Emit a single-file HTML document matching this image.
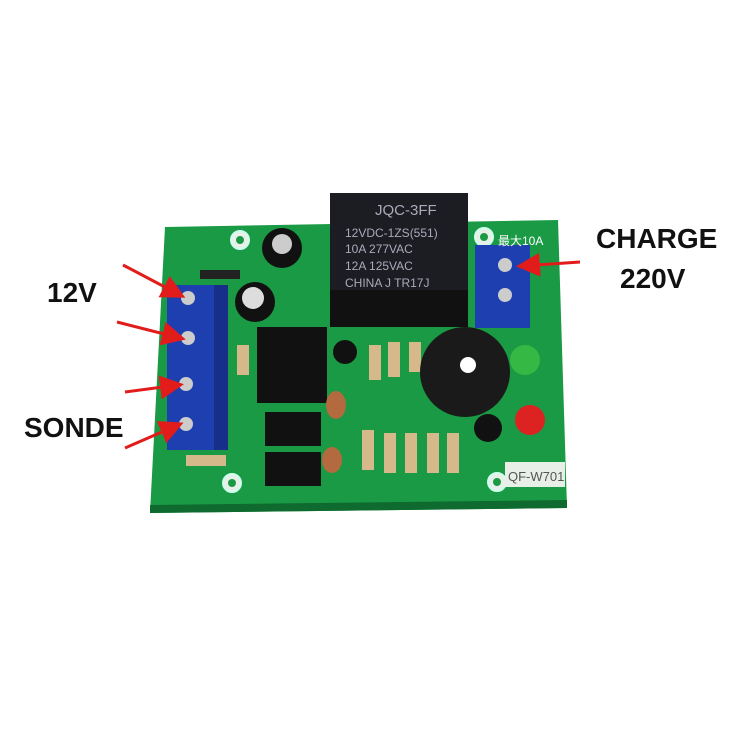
<!DOCTYPE html>
<html><head><meta charset="utf-8"><style>
html,body{margin:0;padding:0;background:#fff;width:750px;height:750px;overflow:hidden}
</style></head><body>
<svg width="750" height="750" viewBox="0 0 750 750" xmlns="http://www.w3.org/2000/svg" font-family="Liberation Sans, sans-serif">
<defs><marker id="ah" markerWidth="8" markerHeight="8" refX="6" refY="4" orient="auto"><path d="M0,0 L8,4 L0,8 z" fill="#e21b1b"/></marker></defs>
<polygon points="165,227 558,220 567,508 150,513" fill="#1a9a45"/>
<polygon points="150,505 567,500 567,508 150,513" fill="#0e6a2e"/>
<!-- mounting holes -->
<g fill="#e8efe8" stroke="#cfe" stroke-width="2">
<circle cx="240" cy="240" r="9"/><circle cx="484" cy="237" r="9"/><circle cx="232" cy="483" r="9"/><circle cx="497" cy="482" r="9"/>
</g>
<g fill="#1a9a45"><circle cx="240" cy="240" r="4"/><circle cx="484" cy="237" r="4"/><circle cx="232" cy="483" r="4"/><circle cx="497" cy="482" r="4"/></g>
<!-- relay -->
<rect x="330" y="193" width="138" height="134" fill="#1c1d22"/>
<rect x="330" y="290" width="138" height="37" fill="#111"/>
<g fill="#aab" font-size="12"><text x="375" y="215" font-size="15">JQC-3FF</text><text x="345" y="237">12VDC-1ZS(551)</text><text x="345" y="253">10A 277VAC</text><text x="345" y="270">12A 125VAC</text><text x="345" y="287">CHINA  J  TR17J</text></g>
<!-- capacitors -->
<circle cx="282" cy="248" r="20" fill="#111"/><circle cx="282" cy="244" r="10" fill="#ccc"/>
<circle cx="255" cy="302" r="20" fill="#111"/><circle cx="253" cy="298" r="11" fill="#ddd"/>
<rect x="200" y="270" width="40" height="9" fill="#222"/>
<!-- terminals -->
<rect x="167" y="285" width="61" height="80" fill="#1e3fb0"/>
<rect x="167" y="365" width="61" height="85" fill="#1e3fb0"/>
<rect x="214" y="285" width="14" height="165" fill="#172f88"/>
<rect x="475" y="245" width="55" height="83" fill="#1e3fb0"/>
<g fill="#ccc"><circle cx="188" cy="298" r="7"/><circle cx="188" cy="338" r="7"/><circle cx="186" cy="384" r="7"/><circle cx="186" cy="424" r="7"/><circle cx="505" cy="265" r="7"/><circle cx="505" cy="295" r="7"/></g>
<!-- ICs -->
<rect x="257" y="327" width="70" height="76" fill="#111"/>
<rect x="265" y="412" width="56" height="34" fill="#111"/>
<rect x="265" y="452" width="56" height="34" fill="#111"/>
<!-- transistors -->
<circle cx="345" cy="352" r="12" fill="#111"/><circle cx="488" cy="428" r="14" fill="#111"/>
<!-- caps ceramic -->
<ellipse cx="336" cy="405" rx="10" ry="14" fill="#b26a3e"/><ellipse cx="332" cy="460" rx="10" ry="13" fill="#b26a3e"/>
<!-- resistors -->
<g fill="#d6b98a">
<rect x="237" y="345" width="12" height="30"/><rect x="369" y="345" width="12" height="35"/><rect x="388" y="342" width="12" height="35"/><rect x="409" y="342" width="12" height="30"/>
<rect x="362" y="430" width="12" height="40"/><rect x="384" y="433" width="12" height="40"/><rect x="405" y="433" width="12" height="40"/><rect x="427" y="433" width="12" height="40"/><rect x="447" y="433" width="12" height="40"/>
<rect x="186" y="455" width="40" height="11"/>
</g>
<!-- buzzer -->
<circle cx="465" cy="372" r="45" fill="#1a1a1a"/><circle cx="468" cy="365" r="8" fill="#fff"/>
<!-- LEDs -->
<circle cx="525" cy="360" r="15" fill="#36b844"/><circle cx="530" cy="420" r="15" fill="#d22"/>
<rect x="505" y="462" width="60" height="25" fill="#e8efe8"/>
<text x="508" y="481" font-size="13" fill="#555">QF-W701</text>
<text x="498" y="245" font-size="12" fill="#fff">最大10A</text>
<!-- labels -->
<g font-weight="bold" fill="#111" font-size="28">
<text x="47" y="302">12V</text><text x="24" y="437">SONDE</text><text x="596" y="248">CHARGE</text><text x="620" y="288">220V</text>
</g>
<g stroke="#e21b1b" stroke-width="3" fill="none" marker-end="url(#ah)">
<line x1="123" y1="265" x2="180" y2="295"/><line x1="117" y1="322" x2="180" y2="338"/>
<line x1="125" y1="392" x2="178" y2="385"/><line x1="125" y1="448" x2="178" y2="425"/>
<line x1="580" y1="262" x2="522" y2="266"/>
</g>
</svg>
</body></html>
